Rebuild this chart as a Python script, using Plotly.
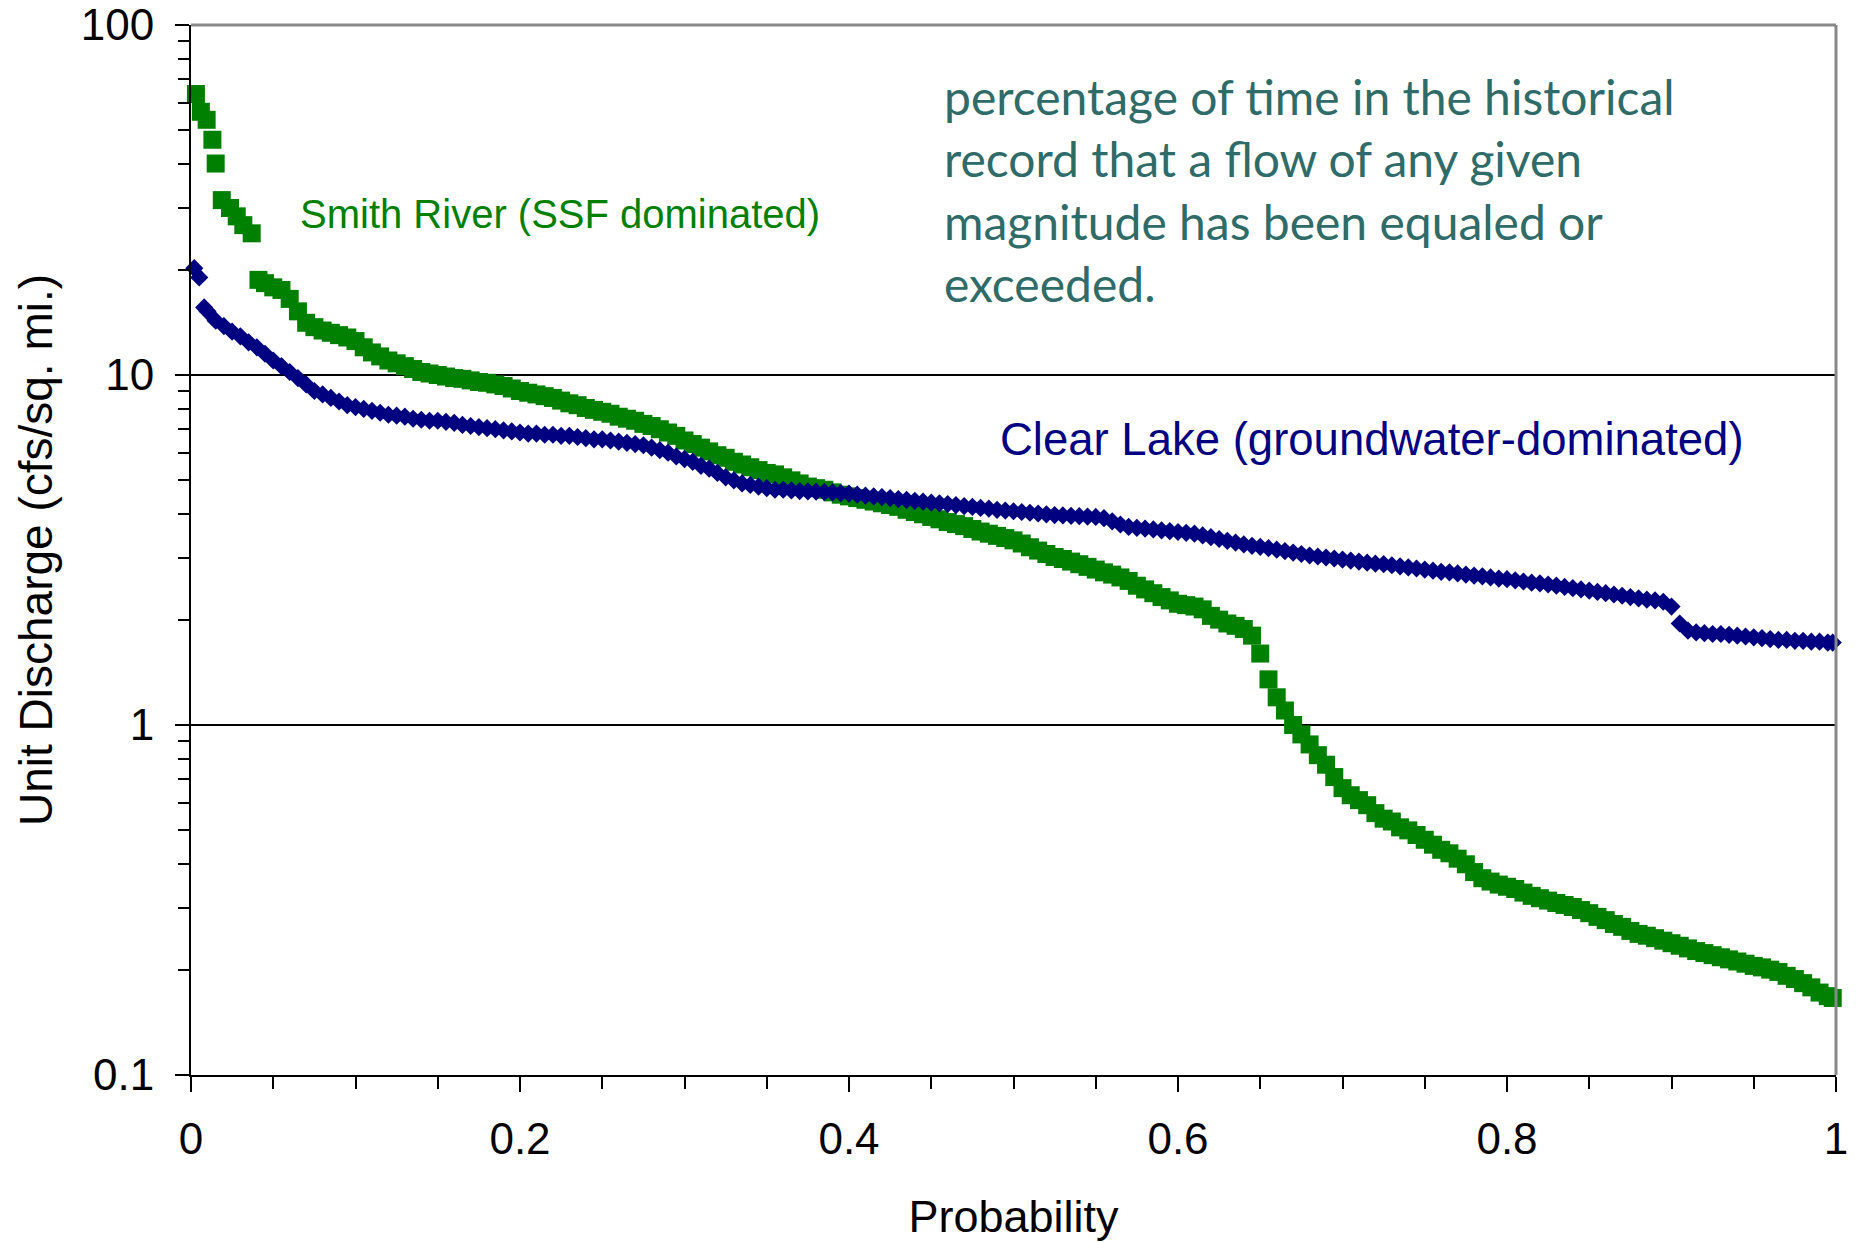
import plotly.graph_objects as go

# ---------------- data ----------------
prob_smith = [
    0.003, 0.006, 0.0095, 0.013, 0.015, 0.0187, 0.0237, 0.0278, 0.0318, 0.0369, 0.041,
    0.045, 0.05, 0.055, 0.06, 0.065, 0.07, 0.075, 0.08, 0.085, 0.09,
    0.095, 0.1, 0.105, 0.11, 0.115, 0.12, 0.125, 0.13, 0.135, 0.14,
    0.145, 0.15, 0.155, 0.16, 0.165, 0.17, 0.175, 0.18, 0.185, 0.19,
    0.195, 0.2, 0.205, 0.21, 0.215, 0.22, 0.225, 0.23, 0.235, 0.24,
    0.245, 0.25, 0.255, 0.26, 0.265, 0.27, 0.275, 0.28, 0.285, 0.29,
    0.295, 0.3, 0.305, 0.31, 0.315, 0.32, 0.325, 0.33, 0.335, 0.34,
    0.345, 0.35, 0.355, 0.36, 0.365, 0.37, 0.375, 0.38, 0.385, 0.39,
    0.395, 0.4, 0.405, 0.41, 0.415, 0.42, 0.425, 0.43, 0.435, 0.44,
    0.445, 0.45, 0.455, 0.46, 0.465, 0.47, 0.475, 0.48, 0.485, 0.49,
    0.495, 0.5, 0.505, 0.51, 0.515, 0.52, 0.525, 0.53, 0.535, 0.54,
    0.545, 0.55, 0.555, 0.56, 0.565, 0.57, 0.575, 0.58, 0.585, 0.59,
    0.595, 0.6, 0.605, 0.61, 0.615, 0.62, 0.625, 0.63, 0.635, 0.64,
    0.645, 0.65, 0.655, 0.66, 0.665, 0.67, 0.675, 0.68, 0.685, 0.69,
    0.695, 0.7, 0.705, 0.71, 0.715, 0.72, 0.725, 0.73, 0.735, 0.74,
    0.745, 0.75, 0.755, 0.76, 0.765, 0.77, 0.775, 0.78, 0.785, 0.79,
    0.795, 0.8, 0.805, 0.81, 0.815, 0.82, 0.825, 0.83, 0.835, 0.84,
    0.845, 0.85, 0.855, 0.86, 0.865, 0.87, 0.875, 0.88, 0.885, 0.89,
    0.895, 0.9, 0.905, 0.91, 0.915, 0.92, 0.925, 0.93, 0.935, 0.94,
    0.945, 0.95, 0.955, 0.96, 0.965, 0.97, 0.975, 0.98, 0.985, 0.99,
    0.995, 0.998,
]
q_smith = [
    63.5, 56.5, 53.6, 47.0, 40.2, 31.6, 30.0, 28.4, 26.8, 25.4, 18.7,
    18.3, 17.8, 17.5, 16.5, 15.2, 14.1, 13.7, 13.4, 13.2, 13.0,
    12.8, 12.5, 12.0, 11.6, 11.3, 11.0, 10.8, 10.6, 10.4, 10.2,
    10.1, 10.0, 9.9, 9.8, 9.75, 9.65, 9.55, 9.5, 9.4, 9.3,
    9.15, 9.0, 8.9, 8.8, 8.7, 8.6, 8.45, 8.3, 8.2, 8.05,
    7.95, 7.85, 7.75, 7.6, 7.5, 7.4, 7.25, 7.15, 7.0, 6.85,
    6.7, 6.5, 6.35, 6.2, 6.05, 5.9, 5.8, 5.65, 5.55, 5.45,
    5.35, 5.25, 5.2, 5.1, 5.0, 4.9, 4.8, 4.75, 4.7, 4.62,
    4.55, 4.5, 4.45, 4.4, 4.35, 4.3, 4.25, 4.2, 4.12, 4.06,
    4.0, 3.93, 3.87, 3.8, 3.75, 3.7, 3.63, 3.57, 3.52, 3.47,
    3.42, 3.37, 3.3, 3.22, 3.15, 3.08, 3.02, 2.98, 2.93, 2.88,
    2.83, 2.78, 2.73, 2.69, 2.64, 2.58, 2.5, 2.44, 2.38, 2.32,
    2.27, 2.22, 2.2, 2.18, 2.14, 2.05, 2.0, 1.95, 1.92, 1.88,
    1.8, 1.6, 1.35, 1.2, 1.1, 1.0, 0.94, 0.88, 0.82, 0.77,
    0.71, 0.66, 0.63, 0.61, 0.59, 0.56, 0.54, 0.53, 0.51, 0.5,
    0.485, 0.47, 0.455, 0.44, 0.43, 0.415, 0.4, 0.38, 0.365, 0.357,
    0.35, 0.345, 0.34, 0.332, 0.325, 0.32, 0.315, 0.31, 0.306, 0.302,
    0.296, 0.29, 0.283, 0.277, 0.27, 0.265, 0.258, 0.253, 0.25, 0.246,
    0.242, 0.238, 0.234, 0.23, 0.226, 0.223, 0.22, 0.217, 0.214, 0.211,
    0.208, 0.205, 0.203, 0.2, 0.197, 0.192, 0.188, 0.183, 0.178, 0.172,
    0.168, 0.166,
]

prob_clear = [
    0.002, 0.005, 0.008,
    0.01, 0.015, 0.02, 0.025, 0.03, 0.035, 0.04, 0.045, 0.05, 0.055,
    0.06, 0.065, 0.07, 0.075, 0.08, 0.085, 0.09, 0.095, 0.1, 0.105,
    0.11, 0.115, 0.12, 0.125, 0.13, 0.135, 0.14, 0.145, 0.15, 0.155,
    0.16, 0.165, 0.17, 0.175, 0.18, 0.185, 0.19, 0.195, 0.2, 0.205,
    0.21, 0.215, 0.22, 0.225, 0.23, 0.235, 0.24, 0.245, 0.25, 0.255,
    0.26, 0.265, 0.27, 0.275, 0.28, 0.285, 0.29, 0.295, 0.3, 0.305,
    0.31, 0.315, 0.32, 0.325, 0.33, 0.335, 0.34, 0.345, 0.35, 0.355,
    0.36, 0.365, 0.37, 0.375, 0.38, 0.385, 0.39, 0.395, 0.4, 0.405,
    0.41, 0.415, 0.42, 0.425, 0.43, 0.435, 0.44, 0.445, 0.45, 0.455,
    0.46, 0.465, 0.47, 0.475, 0.48, 0.485, 0.49, 0.495, 0.5, 0.505,
    0.51, 0.515, 0.52, 0.525, 0.53, 0.535, 0.54, 0.545, 0.55, 0.555,
    0.56, 0.565, 0.57, 0.575, 0.58, 0.585, 0.59, 0.595, 0.6, 0.605,
    0.61, 0.615, 0.62, 0.625, 0.63, 0.635, 0.64, 0.645, 0.65, 0.655,
    0.66, 0.665, 0.67, 0.675, 0.68, 0.685, 0.69, 0.695, 0.7, 0.705,
    0.71, 0.715, 0.72, 0.725, 0.73, 0.735, 0.74, 0.745, 0.75, 0.755,
    0.76, 0.765, 0.77, 0.775, 0.78, 0.785, 0.79, 0.795, 0.8, 0.805,
    0.81, 0.815, 0.82, 0.825, 0.83, 0.835, 0.84, 0.845, 0.85, 0.855,
    0.86, 0.865, 0.87, 0.875, 0.88, 0.885, 0.89, 0.895, 0.9, 0.905,
    0.91, 0.915, 0.92, 0.925, 0.93, 0.935, 0.94, 0.945, 0.95, 0.955,
    0.96, 0.965, 0.97, 0.975, 0.98, 0.985, 0.99, 0.995,
    0.998,
]
q_clear = [
    20.2, 19.0, 15.6,
    15.2, 14.3, 13.8, 13.3, 12.9, 12.4, 12.0, 11.5, 11.0, 10.6,
    10.2, 9.8, 9.4, 9.0, 8.8, 8.6, 8.4, 8.2, 8.1, 8.0,
    7.9, 7.8, 7.7, 7.65, 7.6, 7.5, 7.45, 7.4, 7.4, 7.35,
    7.3, 7.2, 7.15, 7.1, 7.05, 7.0, 6.95, 6.9, 6.85, 6.8,
    6.8, 6.75, 6.75, 6.7, 6.7, 6.65, 6.6, 6.55, 6.55, 6.5,
    6.45, 6.4, 6.35, 6.3, 6.2, 6.1, 6.0, 5.85, 5.75, 5.65,
    5.5, 5.4, 5.25, 5.1, 5.0, 4.9, 4.85, 4.8, 4.75, 4.7,
    4.7, 4.68, 4.66, 4.65, 4.64, 4.63, 4.62, 4.6, 4.58, 4.55,
    4.52, 4.5, 4.48, 4.45, 4.42, 4.4, 4.37, 4.35, 4.32, 4.3,
    4.28, 4.25, 4.22, 4.2, 4.17, 4.15, 4.12, 4.1, 4.08, 4.06,
    4.04, 4.02, 4.0, 3.98, 3.97, 3.96, 3.95, 3.94, 3.93, 3.9,
    3.82, 3.74, 3.68, 3.66, 3.64, 3.62, 3.6, 3.58, 3.56, 3.54,
    3.52, 3.48, 3.44, 3.4, 3.36, 3.32, 3.28, 3.25, 3.23, 3.2,
    3.17, 3.14, 3.11, 3.08, 3.05, 3.03, 3.01, 2.99, 2.97, 2.95,
    2.93, 2.91, 2.89, 2.88, 2.86, 2.84, 2.82, 2.8, 2.78, 2.76,
    2.74, 2.73, 2.71, 2.69, 2.67, 2.66, 2.64, 2.62, 2.61, 2.59,
    2.57, 2.55, 2.54, 2.52, 2.5, 2.48, 2.46, 2.44, 2.42, 2.4,
    2.38, 2.36, 2.34, 2.32, 2.3, 2.28, 2.27, 2.25, 2.18, 1.95,
    1.86, 1.84, 1.83, 1.82, 1.82, 1.81, 1.8, 1.79, 1.78, 1.77,
    1.76, 1.75, 1.75, 1.74, 1.74, 1.73, 1.73, 1.72,
    1.72,
]

x_tick_vals = [0, 0.2, 0.4, 0.6, 0.8, 1]
x_tick_text = ["0", "0.2", "0.4", "0.6", "0.8", "1"]

assert len(prob_smith) == len(q_smith), (len(prob_smith), len(q_smith))
assert len(prob_clear) == len(q_clear), (len(prob_clear), len(q_clear))

# ---------------- styling ----------------
# the page body margin is removed in post_script, so figure pixels == page pixels
W, H = 1856, 1242
# plot area in page pixels: x 191..1836, y 25..1075
ML, MT = 191, 25
MR = W - 1836
MB = H - 1075
PW, PH = W - ML - MR, H - MT - MB

ARIAL = "Liberation Sans, Arial, sans-serif"
GREEN = "#008000"
NAVY = "#000080"
TEAL = "#2F6B68"


def px_x(page_px):
    return (page_px - ML) / PW


def px_y(page_py):
    return 1 - (page_py - MT) / PH


fig = go.Figure()
fig.add_trace(go.Scatter(
    x=prob_smith, y=q_smith, mode="markers", name="Smith River (SSF dominated)",
    marker=dict(symbol="square", size=18, color=GREEN, line=dict(width=0)),
    cliponaxis=False, showlegend=False,
))
fig.add_trace(go.Scatter(
    x=prob_clear, y=q_clear, mode="markers", name="Clear Lake (groundwater-dominated)",
    marker=dict(symbol="diamond", size=14, color=NAVY, line=dict(width=0)),
    cliponaxis=False, showlegend=False,
))

fig.update_layout(
    width=W, height=H,
    margin=dict(l=ML, r=MR, t=MT, b=MB, autoexpand=False),
    paper_bgcolor="white", plot_bgcolor="white",
    font=dict(family=ARIAL, size=43, color="black"),
    xaxis=dict(
        range=[0, 1], tickmode="array", tickvals=x_tick_vals, ticktext=x_tick_text,
        ticks="outside", ticklen=15, tickwidth=2, tickcolor="black",
        showline=True, linecolor="black", linewidth=2, showgrid=False, zeroline=False,
        minor=dict(ticks="outside", ticklen=12, tickwidth=2, tickcolor="black",
                   dtick=0.05, tick0=0, showgrid=False),
        tickfont=dict(family=ARIAL, size=44, color="black"),
        ticklabelstandoff=9, ticklabeloverflow="allow",
        title=dict(text="Probability", font=dict(family=ARIAL, size=45, color="black"), standoff=45),
        automargin=False,
    ),
    yaxis=dict(
        type="log", range=[-1, 2], tickmode="linear", tick0=0, dtick=1,
        ticks="outside", ticklen=14, tickwidth=2, tickcolor="black",
        showline=True, linecolor="black", linewidth=2,
        showgrid=True, gridcolor="black", gridwidth=1.5, zeroline=False,
        minor=dict(ticks="outside", ticklen=11, tickwidth=2, tickcolor="black",
                   dtick="D1", showgrid=False),
        tickfont=dict(family=ARIAL, size=44, color="black"),
        ticklabelstandoff=12, ticklabeloverflow="allow",
        title=dict(text="Unit Discharge (cfs/sq. mi.)", font=dict(family=ARIAL, size=46, color="black"), standoff=14),
        automargin=False,
    ),
    shapes=[
        dict(type="line", xref="paper", yref="paper", x0=0, x1=1, y0=1, y1=1,
             line=dict(color="#888888", width=3), layer="above"),
        dict(type="line", xref="paper", yref="paper", x0=1, x1=1, y0=0, y1=1,
             line=dict(color="#888888", width=3), layer="above"),
    ],
    annotations=[
        dict(text="Smith River (SSF dominated)", xref="paper", yref="paper",
             x=px_x(298), y=px_y(214), xanchor="left", yanchor="middle", showarrow=False,
             font=dict(family=ARIAL, size=40, color=GREEN)),
        dict(text="Clear Lake (groundwater-dominated)", xref="paper", yref="paper",
             x=px_x(998), y=px_y(440), xanchor="left", yanchor="middle", showarrow=False,
             font=dict(family=ARIAL, size=45.5, color=NAVY)),
        dict(text="percentage of time in the historical<br>record that a flow of any given<br>"
                  "magnitude has been equaled or<br>exceeded.",
             xref="paper", yref="paper", x=px_x(942), y=px_y(190), xanchor="left", yanchor="middle",
             align="left", showarrow=False,
             font=dict(family="Lato, Noto Sans, sans-serif", size=48, color=TEAL)),
    ],
)

fig.write_html(
    "out.html",
    config={"displayModeBar": False},
    post_script="document.body.style.margin='0';document.body.style.overflow='hidden';",
)
